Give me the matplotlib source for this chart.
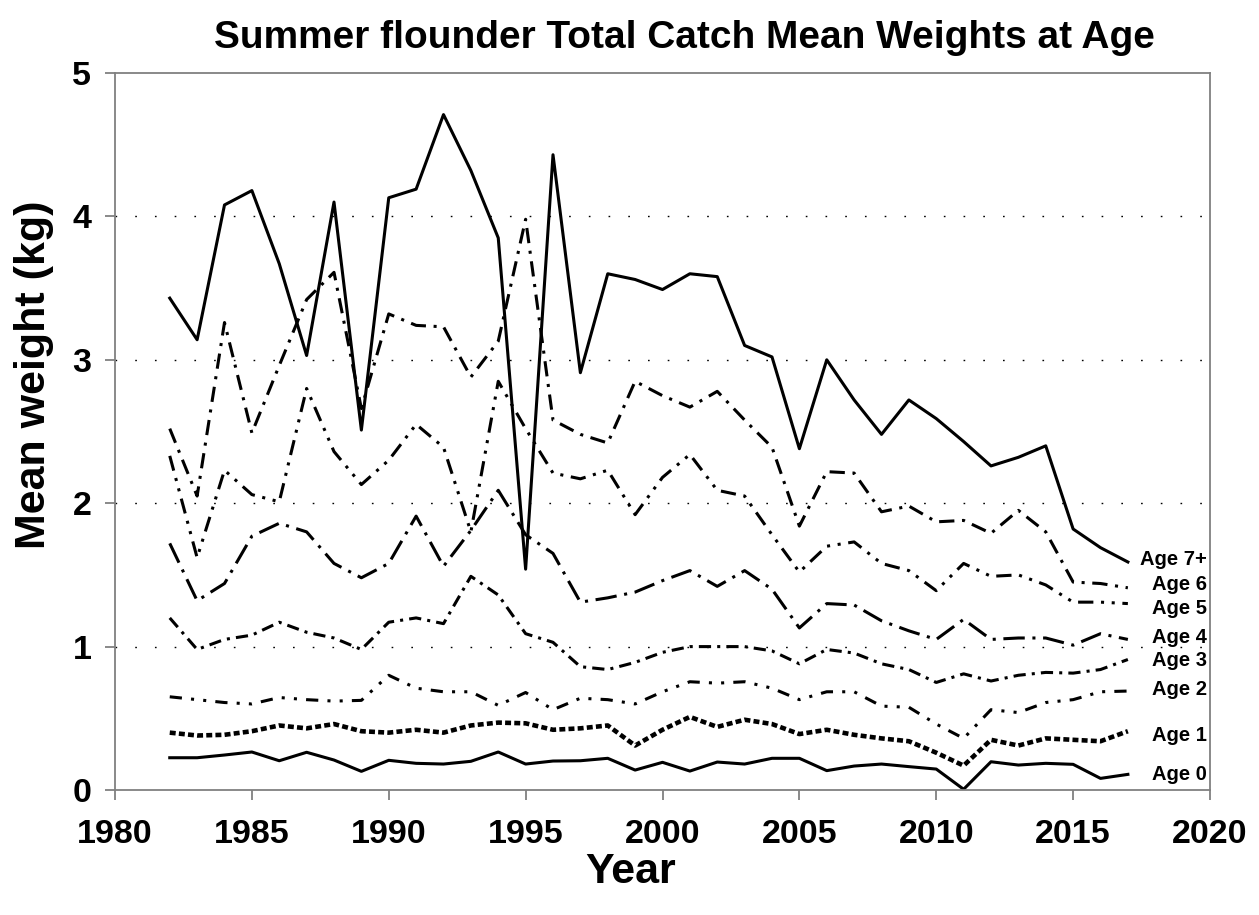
import matplotlib
matplotlib.use("Agg")
import matplotlib.pyplot as plt

# mean weights (kg), 1982-2017
years = list(range(1982, 2018))

age0 = [0.225, 0.225, 0.244, 0.265, 0.204, 0.263, 0.209, 0.130, 0.207, 0.186,
        0.181, 0.200, 0.265, 0.181, 0.202, 0.204, 0.221, 0.139, 0.193, 0.132,
        0.195, 0.181, 0.221, 0.221, 0.135, 0.167, 0.181, 0.163, 0.146, 0.005,
        0.197, 0.174, 0.186, 0.179, 0.081, 0.109]
age1 = [0.40, 0.38, 0.385, 0.41, 0.45, 0.43, 0.46, 0.41, 0.40, 0.42,
        0.40, 0.45, 0.47, 0.465, 0.42, 0.43, 0.45, 0.31, 0.42, 0.51,
        0.44, 0.49, 0.46, 0.39, 0.42, 0.385, 0.36, 0.34, 0.26, 0.17,
        0.35, 0.31, 0.36, 0.35, 0.34, 0.41]
age2 = [0.65, 0.63, 0.61, 0.60, 0.645, 0.63, 0.62, 0.625, 0.80, 0.71,
        0.685, 0.685, 0.59, 0.68, 0.56, 0.64, 0.63, 0.60, 0.685, 0.755,
        0.745, 0.755, 0.71, 0.63, 0.685, 0.685, 0.585, 0.577, 0.46, 0.36,
        0.56, 0.54, 0.61, 0.63, 0.685, 0.69]
age3 = [1.20, 0.98, 1.05, 1.08, 1.17, 1.10, 1.06, 0.98, 1.17, 1.20,
        1.16, 1.49, 1.36, 1.09, 1.03, 0.86, 0.84, 0.89, 0.96, 1.00,
        1.00, 1.00, 0.97, 0.88, 0.98, 0.955, 0.88, 0.84, 0.75, 0.81,
        0.76, 0.80, 0.82, 0.815, 0.84, 0.91]
age4 = [1.72, 1.32, 1.44, 1.77, 1.86, 1.80, 1.58, 1.48, 1.58, 1.91,
        1.56, 1.81, 2.09, 1.78, 1.65, 1.31, 1.34, 1.38, 1.46, 1.53,
        1.42, 1.53, 1.40, 1.13, 1.30, 1.29, 1.18, 1.11, 1.05, 1.19,
        1.05, 1.06, 1.06, 1.01, 1.09, 1.05]
age5 = [2.33, 1.62, 2.23, 2.06, 2.01, 2.80, 2.36, 2.13, 2.30, 2.55,
        2.39, 1.80, 2.85, 2.52, 2.21, 2.17, 2.23, 1.92, 2.18, 2.34,
        2.09, 2.05, 1.78, 1.52, 1.70, 1.73, 1.58, 1.53, 1.39, 1.58,
        1.49, 1.50, 1.43, 1.31, 1.31, 1.30]
age6 = [2.52, 2.05, 3.26, 2.49, 2.96, 3.42, 3.61, 2.66, 3.32, 3.24,
        3.23, 2.88, 3.13, 3.98, 2.58, 2.48, 2.42, 2.85, 2.75, 2.67,
        2.78, 2.58, 2.39, 1.84, 2.22, 2.21, 1.94, 1.98, 1.87, 1.88,
        1.79, 1.95, 1.80, 1.45, 1.44, 1.41]
age7 = [3.43, 3.14, 4.08, 4.18, 3.67, 3.03, 4.10, 2.51, 4.13, 4.19,
        4.71, 4.32, 3.85, 1.54, 4.43, 2.91, 3.60, 3.56, 3.49, 3.60,
        3.58, 3.10, 3.02, 2.38, 3.00, 2.72, 2.48, 2.72, 2.59, 2.43,
        2.26, 2.32, 2.40, 1.82, 1.69, 1.59]

labels = ["Age 0", "Age 1", "Age 2", "Age 3", "Age 4", "Age 5", "Age 6", "Age 7+"]
series = [age0, age1, age2, age3, age4, age5, age6, age7]
# small vertical nudge so the end labels don't collide
nudge = [0.0, -0.03, 0.01, -0.01, 0.01, -0.035, 0.025, 0.02]

# excel-ish line styles, one per age
styles = [
    dict(ls="-", lw=2.2),
    dict(ls=(0, (1.3, 0.7)), lw=3.3),
    dict(ls=(0, (4, 3, 1, 3, 1, 3)), lw=2.2),
    dict(ls=(0, (4, 2, 1, 2)), lw=2.2),
    dict(ls=(0, (7, 2.5, 1, 2.5)), lw=2.2),
    dict(ls=(0, (5, 2.5, 1, 2.5, 1, 2.5)), lw=2.2),
    dict(ls=(0, (5, 2.5, 1, 2.5)), lw=2.2),
    dict(ls="-", lw=2.2),
]

plt.rcParams["font.family"] = ["Liberation Sans", "DejaVu Sans"]
plt.rcParams["font.weight"] = "bold"

fig = plt.figure(figsize=(12.59, 9.15), dpi=100)
ax = fig.add_axes([115 / 1259, 125 / 915, 1095 / 1259, 717 / 915])

for vals, lab, st, dy in zip(series, labels, styles, nudge):
    ax.plot(years, vals, color="black", dash_capstyle="butt", **st)
    ax.annotate(lab, xy=(2019.9, vals[-1] + dy), ha="right", va="center",
                fontsize=14.5, fontweight="bold")

ax.set_xlim(1980, 2020)
ax.set_ylim(0, 5)
ax.set_xticks(range(1980, 2021, 5))
ax.set_yticks(range(0, 6))

# dotted gridlines
for v in range(1, 5):
    ax.axhline(v, color="black", lw=1.0, ls=(0, (1.2, 13)), zorder=0)

for s in ax.spines.values():
    s.set_color("#808080")
    s.set_linewidth(1.3)
ax.tick_params(axis="both", direction="out", length=7, width=1.3,
               color="#808080", labelsize=24.5, pad=10)
ax.tick_params(axis="x", pad=14)
for t in ax.get_xticklabels() + ax.get_yticklabels():
    t.set_fontweight("bold")

fig.text(684 / 1259, 1 - 38 / 915, "Summer flounder Total Catch Mean Weights at Age",
         ha="center", va="center", fontsize=28, fontweight="bold")
fig.text(631 / 1259, 1 - 872 / 915, "Year", ha="center", va="center",
         fontsize=31, fontweight="bold")
fig.text(34 / 1259, 1 - 375 / 915, "Mean weight (kg)", ha="center", va="center",
         rotation=90, fontsize=31, fontweight="bold")

fig.savefig("out.png", dpi=100)
